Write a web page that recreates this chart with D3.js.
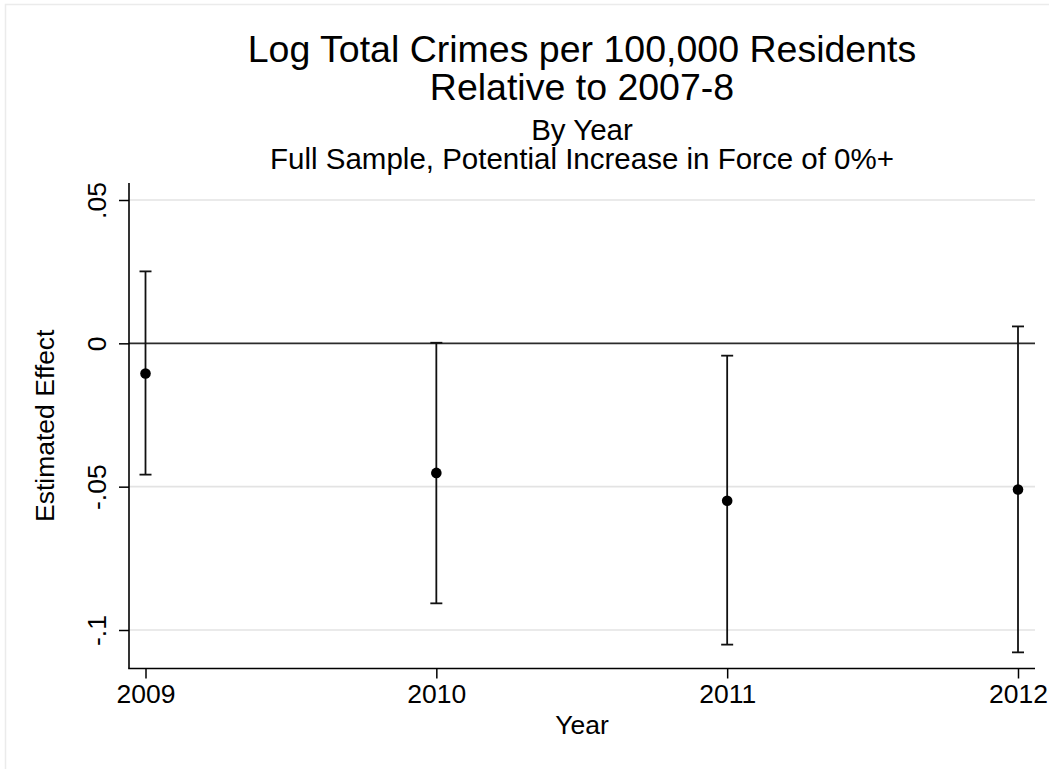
<!DOCTYPE html>
<html>
<head>
<meta charset="utf-8">
<script src="https://cdn.jsdelivr.net/npm/d3@7"></script>
<style>
  html, body { margin: 0; padding: 0; background: #fff; }
  svg { display: block; }
  text { font-family: "Liberation Sans", Arial, Helvetica, sans-serif; fill: #000; }
</style>
</head>
<body>
<svg id="chart" width="1049" height="769"></svg>
<script>
// Point estimates and 95% confidence bounds by year
const years = [2009, 2010, 2011, 2012];
const estimates = [-0.0105, -0.0452, -0.0549, -0.0510];
const lowerCI = [-0.0458, -0.0907, -0.1051, -0.1078];
const upperCI = [0.0251, 0.0002, -0.0043, 0.0059];

// Axis ticks and labels
const yTicks = [-0.1, -0.05, 0, 0.05];
const yTickLabels = ["-.1", "-.05", "0", ".05"];
const xTicks = [2009, 2010, 2011, 2012];

const titleLines = ["Log Total Crimes per 100,000 Residents", "Relative to 2007-8"];
const subtitleLines = ["By Year", "Full Sample, Potential Increase in Force of 0%+"];
const yTitle = "Estimated Effect";
const xTitle = "Year";

const svg = d3.select("#chart");
const W = 1049, H = 769;

// plot region
const plot = { left: 129, right: 1035, top: 183, bottom: 668.5 };

const x = d3.scaleLinear().domain([2009, 2012]).range([145.5, 1018]);
const y = d3.scaleLinear().domain([-0.1, 0.05]).range([630, 200]);

const labelSize = "26.5px";

// outer graph border
svg.append("rect")
  .attr("x", 5.5).attr("y", 4.5)
  .attr("width", W + 10).attr("height", H + 10)
  .attr("fill", "#fff").attr("stroke", "#ebebeb").attr("stroke-width", 1.5);

// horizontal grid lines
svg.append("g").selectAll("line")
  .data(yTicks.filter(d => d !== 0))
  .join("line")
  .attr("x1", plot.left).attr("x2", plot.right)
  .attr("y1", d => y(d)).attr("y2", d => y(d))
  .attr("stroke", "#e3e3e3").attr("stroke-width", 1.6);

// zero reference line
svg.append("line")
  .attr("x1", plot.left).attr("x2", plot.right)
  .attr("y1", y(0)).attr("y2", y(0))
  .attr("stroke", "#2b2b2b").attr("stroke-width", 1.6);

// y axis
const yAxis = d3.axisLeft(y)
  .tickValues(yTicks)
  .tickSize(10)
  .tickSizeOuter(0)
  .tickPadding(0)
  .tickFormat((d, i) => yTickLabels[i]);

const gy = svg.append("g").attr("transform", `translate(${plot.left},0)`).call(yAxis);
gy.select(".domain").remove();
gy.selectAll(".tick line").attr("stroke", "#000").attr("stroke-width", 1.5);
gy.selectAll(".tick text")
  .attr("x", null).attr("dy", null)
  .attr("text-anchor", "middle")
  .attr("transform", "translate(-23.5,0) rotate(-90)")
  .style("font-size", labelSize);
gy.append("line")
  .attr("x1", 0).attr("x2", 0)
  .attr("y1", plot.top).attr("y2", plot.bottom)
  .attr("stroke", "#000").attr("stroke-width", 1.6);

// x axis
const xAxis = d3.axisBottom(x)
  .tickValues(xTicks)
  .tickSize(10)
  .tickSizeOuter(0)
  .tickPadding(6)
  .tickFormat(d3.format("d"));

const gx = svg.append("g").attr("transform", `translate(0,${plot.bottom})`).call(xAxis);
gx.select(".domain").remove();
gx.selectAll(".tick line").attr("stroke", "#000").attr("stroke-width", 1.5);
gx.selectAll(".tick text")
  .attr("dy", null)
  .attr("y", 34.5)
  .style("font-size", labelSize);
gx.append("line")
  .attr("x1", plot.left - 0.8).attr("x2", plot.right)
  .attr("y1", 0).attr("y2", 0)
  .attr("stroke", "#000").attr("stroke-width", 1.6);

// confidence intervals
const rows = years.map((yr, i) => ({ yr, est: estimates[i], lo: lowerCI[i], hi: upperCI[i] }));
const capHalf = 6;
const ci = svg.append("g").attr("stroke", "#111").attr("stroke-width", 1.8);
ci.selectAll("line.stem").data(rows).join("line").attr("class", "stem")
  .attr("x1", d => x(d.yr)).attr("x2", d => x(d.yr))
  .attr("y1", d => y(d.lo)).attr("y2", d => y(d.hi));
ci.selectAll("line.capHi").data(rows).join("line").attr("class", "capHi")
  .attr("x1", d => x(d.yr) - capHalf).attr("x2", d => x(d.yr) + capHalf)
  .attr("y1", d => y(d.hi)).attr("y2", d => y(d.hi));
ci.selectAll("line.capLo").data(rows).join("line").attr("class", "capLo")
  .attr("x1", d => x(d.yr) - capHalf).attr("x2", d => x(d.yr) + capHalf)
  .attr("y1", d => y(d.lo)).attr("y2", d => y(d.lo));

// point estimates
svg.append("g").selectAll("circle").data(rows).join("circle")
  .attr("cx", d => x(d.yr)).attr("cy", d => y(d.est))
  .attr("r", 5.3).attr("fill", "#000");

// titles
const cx = (plot.left + plot.right) / 2;
svg.append("g").selectAll("text").data(titleLines).join("text")
  .attr("x", cx).attr("y", (d, i) => 62 + i * 37.5)
  .attr("text-anchor", "middle")
  .style("font-size", "37.5px")
  .text(d => d);
svg.append("g").selectAll("text").data(subtitleLines).join("text")
  .attr("x", cx).attr("y", (d, i) => 140 + i * 29)
  .attr("text-anchor", "middle")
  .style("font-size", "29.5px")
  .text(d => d);

// axis titles
svg.append("text")
  .attr("transform", `translate(53.5,${(plot.top + plot.bottom) / 2}) rotate(-90)`)
  .attr("text-anchor", "middle")
  .style("font-size", labelSize)
  .text(yTitle);
svg.append("text")
  .attr("x", cx).attr("y", 733.5)
  .attr("text-anchor", "middle")
  .style("font-size", labelSize)
  .text(xTitle);
</script>
</body>
</html>
